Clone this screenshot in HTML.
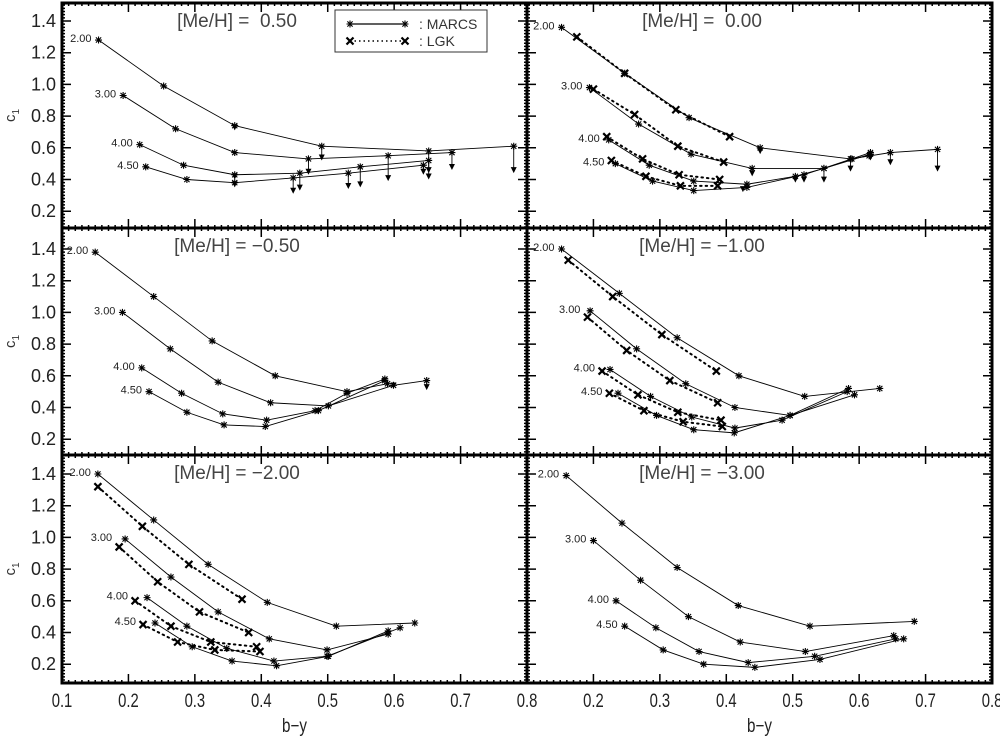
<!DOCTYPE html>
<html><head><meta charset="utf-8"><style>
html,body{margin:0;padding:0;background:#fff;}
svg{display:block;font-family:"Liberation Sans",sans-serif;}
text{white-space:pre;}
</style></head><body>
<svg id="chart" width="1000" height="740" viewBox="0 0 1000 740" xmlns="http://www.w3.org/2000/svg"></svg>
<script>
// ---- data: [b-y, c1] pairs ----
const p050_m200 = [[0.155,1.28],[0.253,0.99],[0.36,0.74],[0.491,0.61],[0.652,0.58],[0.78,0.61]];
const p050_m300 = [[0.192,0.93],[0.271,0.72],[0.36,0.57],[0.471,0.53],[0.591,0.55],[0.687,0.57]];
const p050_m400 = [[0.217,0.62],[0.283,0.49],[0.36,0.43],[0.458,0.44],[0.549,0.48],[0.652,0.52]];
const p050_m450 = [[0.226,0.48],[0.288,0.40],[0.36,0.38],[0.448,0.41],[0.531,0.44],[0.644,0.49]];
const p050_arrows = [[0.36,0.74,0.71],[0.36,0.43,0.40],[0.36,0.38,0.35],[0.491,0.61,0.52],[0.471,0.53,0.43],[0.591,0.55,0.39],[0.652,0.52,0.40],[0.652,0.58,0.44],[0.687,0.57,0.46],[0.448,0.41,0.31],[0.458,0.44,0.33],[0.531,0.44,0.34],[0.549,0.48,0.35],[0.644,0.49,0.43],[0.78,0.61,0.44]];

const p000_m200 = [[0.152,1.36],[0.247,1.07],[0.344,0.79],[0.451,0.60],[0.587,0.53],[0.647,0.57],[0.718,0.59]];
const p000_m300 = [[0.194,0.98],[0.268,0.75],[0.347,0.56],[0.439,0.47],[0.547,0.47],[0.617,0.56]];
const p000_m400 = [[0.223,0.65],[0.284,0.49],[0.351,0.39],[0.431,0.37],[0.504,0.42],[0.547,0.47],[0.617,0.57]];
const p000_m450 = [[0.233,0.50],[0.289,0.39],[0.351,0.33],[0.431,0.35],[0.517,0.43],[0.589,0.53],[0.615,0.55]];
const p000_l200 = [[0.175,1.30],[0.247,1.07],[0.324,0.84],[0.405,0.67]];
const p000_l300 = [[0.2,0.97],[0.262,0.81],[0.327,0.61],[0.396,0.51]];
const p000_l400 = [[0.22,0.67],[0.274,0.53],[0.329,0.43],[0.39,0.40]];
const p000_l450 = [[0.227,0.52],[0.279,0.42],[0.331,0.36],[0.387,0.36]];
const p000_arrows = [[0.451,0.60,0.56],[0.439,0.47,0.42],[0.425,0.35,0.32],[0.504,0.42,0.38],[0.517,0.43,0.38],[0.547,0.47,0.38],[0.587,0.53,0.45],[0.617,0.56,0.52],[0.647,0.57,0.49],[0.718,0.59,0.45]];

const pm050_m200 = [[0.15,1.38],[0.238,1.10],[0.326,0.82],[0.421,0.60],[0.529,0.50],[0.59,0.55]];
const pm050_m300 = [[0.191,1.00],[0.263,0.77],[0.335,0.56],[0.414,0.43],[0.501,0.41],[0.599,0.54],[0.649,0.57]];
const pm050_m400 = [[0.22,0.65],[0.28,0.49],[0.342,0.36],[0.408,0.32],[0.481,0.38],[0.529,0.49],[0.586,0.58]];
const pm050_m450 = [[0.231,0.50],[0.288,0.37],[0.344,0.29],[0.406,0.28],[0.486,0.38],[0.586,0.57]];
const pm050_arrows = [[0.649,0.57,0.51],[0.599,0.54,0.52]];

const pm100_m200 = [[0.152,1.40],[0.239,1.12],[0.326,0.84],[0.419,0.60],[0.518,0.47],[0.631,0.52]];
const pm100_m300 = [[0.195,1.01],[0.265,0.77],[0.339,0.55],[0.413,0.40],[0.496,0.35],[0.584,0.52]];
const pm100_m400 = [[0.225,0.64],[0.286,0.47],[0.348,0.34],[0.413,0.27],[0.484,0.32],[0.582,0.50]];
const pm100_m450 = [[0.237,0.49],[0.295,0.35],[0.351,0.26],[0.412,0.24],[0.496,0.35],[0.593,0.48]];
const pm100_l200 = [[0.162,1.33],[0.229,1.10],[0.303,0.86],[0.385,0.63]];
const pm100_l300 = [[0.191,0.97],[0.25,0.76],[0.315,0.57],[0.387,0.43]];
const pm100_l400 = [[0.213,0.63],[0.267,0.48],[0.327,0.37],[0.392,0.32]];
const pm100_l450 = [[0.224,0.49],[0.276,0.38],[0.335,0.31],[0.394,0.28]];

const pm200_m200 = [[0.154,1.40],[0.238,1.11],[0.32,0.83],[0.409,0.59],[0.513,0.44],[0.631,0.46]];
const pm200_m300 = [[0.195,0.99],[0.264,0.75],[0.335,0.53],[0.412,0.36],[0.499,0.29],[0.591,0.39]];
const pm200_m400 = [[0.228,0.62],[0.288,0.44],[0.348,0.30],[0.419,0.22],[0.499,0.25],[0.609,0.43]];
const pm200_m450 = [[0.24,0.46],[0.296,0.31],[0.356,0.22],[0.423,0.19],[0.501,0.25],[0.591,0.41]];
const pm200_l200 = [[0.154,1.32],[0.221,1.07],[0.291,0.83],[0.371,0.61]];
const pm200_l300 = [[0.186,0.94],[0.244,0.72],[0.307,0.53],[0.381,0.40]];
const pm200_l400 = [[0.21,0.60],[0.264,0.44],[0.324,0.34],[0.393,0.31]];
const pm200_l450 = [[0.222,0.45],[0.274,0.34],[0.33,0.29],[0.398,0.28]];

const pm300_m200 = [[0.159,1.39],[0.243,1.09],[0.326,0.81],[0.418,0.57],[0.526,0.44],[0.683,0.47]];
const pm300_m300 = [[0.2,0.98],[0.271,0.73],[0.343,0.50],[0.421,0.34],[0.519,0.28],[0.652,0.38]];
const pm300_m400 = [[0.234,0.60],[0.294,0.43],[0.359,0.28],[0.433,0.21],[0.533,0.25],[0.655,0.36]];
const pm300_m450 = [[0.247,0.44],[0.305,0.29],[0.366,0.20],[0.443,0.18],[0.541,0.23],[0.667,0.36]];

const gravityLabels = ["2.00","3.00","4.00","4.50"];
const yTicks = [0.2,0.4,0.6,0.8,1.0,1.2,1.4];
const xTicksLeft = [0.1,0.2,0.3,0.4,0.5,0.6,0.7,0.8];
const xTicksRight = [0.2,0.3,0.4,0.5,0.6,0.7,0.8];

const panels = [
 {id:"0.50",col:0,row:0,title:"[Me/H] =  0.50",m:[p050_m200,p050_m300,p050_m400,p050_m450],l:null,a:p050_arrows},
 {id:"0.00",col:1,row:0,title:"[Me/H] =  0.00",m:[p000_m200,p000_m300,p000_m400,p000_m450],l:[p000_l200,p000_l300,p000_l400,p000_l450],a:p000_arrows},
 {id:"-0.50",col:0,row:1,title:"[Me/H] = \u22120.50",m:[pm050_m200,pm050_m300,pm050_m400,pm050_m450],l:null,a:pm050_arrows},
 {id:"-1.00",col:1,row:1,title:"[Me/H] = \u22121.00",m:[pm100_m200,pm100_m300,pm100_m400,pm100_m450],l:[pm100_l200,pm100_l300,pm100_l400,pm100_l450],a:[]},
 {id:"-2.00",col:0,row:2,title:"[Me/H] = \u22122.00",m:[pm200_m200,pm200_m300,pm200_m400,pm200_m450],l:[pm200_l200,pm200_l300,pm200_l400,pm200_l450],a:[]},
 {id:"-3.00",col:1,row:2,title:"[Me/H] = \u22123.00",m:[pm300_m200,pm300_m300,pm300_m400,pm300_m450],l:null,a:[]}
];

const NS="http://www.w3.org/2000/svg";
const svg=document.getElementById('chart');
const rowTop=[21,249,474];
const rowBox=[[3,228],[228,455],[455,683]];
function X(col,v){return 62+col*465+(v-0.1)*664.3;}
function Y(row,v){return rowTop[row]+(1.4-v)*158.5;}
function mk(tag,attrs,parent){const e=document.createElementNS(NS,tag);for(const k in attrs)e.setAttribute(k,attrs[k]);(parent||svg).appendChild(e);return e;}

function asterisk(g,x,y){
  const r=3.5;
  mk('path',{d:`M${x-r},${y}H${x+r}M${x},${y-r}V${y+r}M${x-r*0.75},${y-r*0.75}L${x+r*0.75},${y+r*0.75}M${x-r*0.75},${y+r*0.75}L${x+r*0.75},${y-r*0.75}`,stroke:'#000','stroke-width':1.1,fill:'none'},g);
}
function cross(g,x,y){
  const r=3.5;
  mk('path',{d:`M${x-r},${y-r}L${x+r},${y+r}M${x-r},${y+r}L${x+r},${y-r}`,stroke:'#000','stroke-width':2.2,fill:'none'},g);
}

panels.forEach(p=>{
  const g=mk('g',{});
  
  
  const x0=62+p.col*465,x1=x0+465,y0=rowBox[p.row][0],y1=rowBox[p.row][1];
  const tg=mk('g',{},g);
  
  
  let d='';
  for(let i=0;i<=70;i++){const v=0.1+i*0.01;const x=X(p.col,v);const L=(i%10===0)?9:3;d+=`M${x},${y1}v${-L}M${x},${y0}v${L}`;}
  for(let i=0;i<=70;i++){const v=0.1+i*0.02;const y=Y(p.row,v);if(y<y0||y>y1)continue;const L=(i%10===5)?9:3;d+=`M${x0},${y}h${L}M${x1},${y}h${-L}`;}
  mk('path',{d:d,stroke:'#000','stroke-width':1.5,fill:'none'},tg);
  const fr=mk('rect',{x:x0,y:y0,width:465,height:y1-y0,fill:'none',stroke:'#000','stroke-width':3},g);
  
  
  const t=mk('text',{x:x0+175,y:y0+24,'font-size':19,fill:'#444','text-anchor':'middle'},g);
  t.setAttributeNS('http://www.w3.org/XML/1998/namespace','xml:space','preserve');
  t.textContent=p.title;
  
  
  if(p.l){p.l.forEach((s,i)=>{
    const pl=mk('polyline',{points:s.map(q=>X(p.col,q[0])+','+Y(p.row,q[1])).join(' '),fill:'none',stroke:'#000','stroke-width':2,'stroke-dasharray':'1.5 4','stroke-linecap':'round'},g);
    
    
    s.forEach(q=>cross(g,X(p.col,q[0]),Y(p.row,q[1])));
  });}
  p.m.forEach((s,i)=>{
    const pl=mk('polyline',{points:s.map(q=>X(p.col,q[0])+','+Y(p.row,q[1])).join(' '),fill:'none',stroke:'#000','stroke-width':0.9},g);
    
    
    s.forEach(q=>asterisk(g,X(p.col,q[0]),Y(p.row,q[1])));
    let fx=s[0][0];if(p.l)fx=Math.min(fx,p.l[i][0][0]);
    const lb=mk('text',{x:X(p.col,fx)-7,y:Y(p.row,s[0][1])+2,'font-size':11,fill:'#222','text-anchor':'end'},g);
    lb.textContent=gravityLabels[i];
    
    
  });
  p.a.forEach(a=>{
    const x=X(p.col,a[0]),ya=Y(p.row,a[1]),yb=Y(p.row,a[2]);
    const ag=mk('g',{},g);
    
    
    mk('line',{x1:x,y1:ya,x2:x,y2:yb-5,stroke:'#000','stroke-width':0.9},ag);
    mk('path',{d:`M${x-3},${yb-6}L${x+3},${yb-6}L${x},${yb}Z`,fill:'#000'},ag);
  });
  if(p.col===0){yTicks.forEach(v=>{
    const tl=mk('text',{x:56,y:Y(p.row,v)+6,'font-size':18,fill:'#222','text-anchor':'end'},g);
    tl.textContent=v.toFixed(1);
    
    
  });
    const yl=mk('text',{x:0,y:0,'font-size':15,fill:'#333',transform:`translate(15,${(y0+y1)/2}) rotate(-90)`,'text-anchor':'middle'},g);
    yl.innerHTML='c<tspan font-size="10" dy="4">1</tspan>';
    
    
  }
  if(p.row===2){
    const ticks=p.col===0?xTicksLeft:xTicksRight;
    ticks.forEach(v=>{
      const tl=mk('text',{x:0,y:0,'font-size':19,fill:'#222','text-anchor':'middle',transform:`translate(${X(p.col,v)},${707}) scale(0.78,1)`},g);
      tl.textContent=v.toFixed(1);
      
      
    });
    const xl=mk('text',{x:0,y:0,'font-size':19,fill:'#222','text-anchor':'middle',transform:`translate(${X(p.col,0.45)},732) scale(0.8,1)`},g);
    xl.textContent='b\u2212y';
    
    
  }
});

const lg=mk('g',{});


mk('rect',{x:335,y:10,width:152,height:42,fill:'#fff',stroke:'#333','stroke-width':1},lg);
mk('line',{x1:350,y1:24,x2:405,y2:24,stroke:'#000','stroke-width':1.2},lg);
asterisk(lg,350,24);asterisk(lg,405,24);
mk('line',{x1:350,y1:41,x2:405,y2:41,stroke:'#000','stroke-width':1.5,'stroke-dasharray':'1.5 3'},lg);
cross(lg,350,41);cross(lg,405,41);
const le1=mk('text',{x:419,y:29,'font-size':14,fill:'#333'},lg);le1.textContent=': MARCS';


const le2=mk('text',{x:419,y:46,'font-size':14,fill:'#333'},lg);le2.textContent=': LGK';


</script>
</body></html>
